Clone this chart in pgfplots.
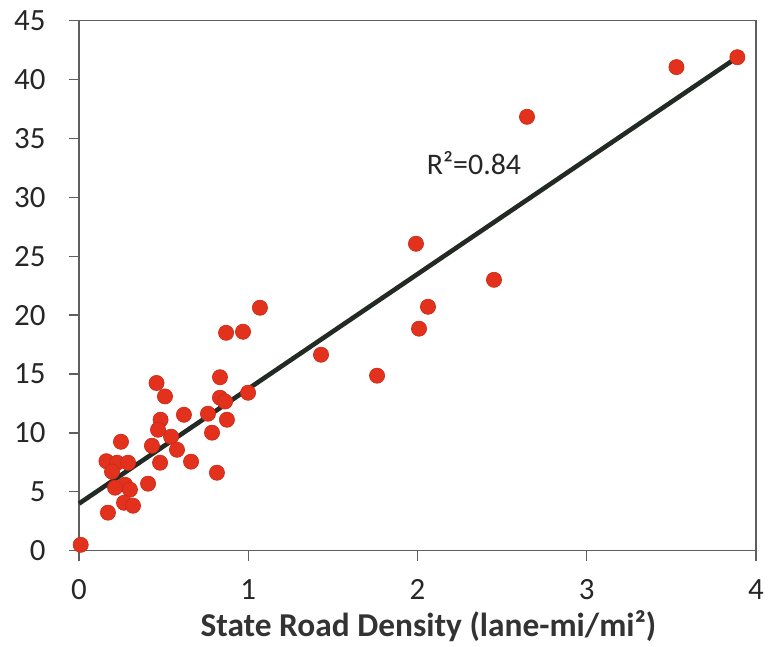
\documentclass[border=0pt]{standalone}
\usepackage{fontspec}
\setmainfont{Carlito}
\usepackage{pgfplots}
\pgfplotsset{compat=1.18}
\definecolor{dotred}{RGB}{226,50,30}
\definecolor{dotedge}{RGB}{205,40,22}
\definecolor{linecol}{RGB}{35,42,36}
\definecolor{axcol}{RGB}{95,95,95}
\begin{document}
\begin{tikzpicture}
\begin{axis}[
  scale only axis, width=677bp, height=530bp,
  xmin=0, xmax=4, ymin=0, ymax=45,
  xtick={0,1,2,3,4}, ytick={0,5,...,45},
  tick align=outside, xtick pos=bottom, ytick pos=left,
  major tick length=10bp,
  axis line style={axcol, line width=1.3bp},
  every tick/.style={axcol, line width=1.3bp},
  tick label style={font=\fontsize{31}{33}\selectfont, text=black!85},
  /pgf/number format/assume math mode=true,
  xticklabel style={inner sep=0pt, anchor=base, yshift=-39bp},
  yticklabel style={xshift=-20bp},
  xlabel={State Road Density (lane-mi/mi²)},
  xlabel style={font=\fontsize{33.5}{35}\selectfont\bfseries, text=black!80, inner sep=1bp,
    at={(axis description cs:0.516,0)}, anchor=base, yshift=-86bp},
  clip=false,
]
\addplot[only marks, mark=*, mark size=7.6bp, mark options={fill=dotred, draw=dotedge, line width=0.6bp}] coordinates {
(0.01,0.5) (3.89,41.9) (3.53,41.06) (2.647,36.84) (1.991,26.06) (2.452,23.0)
(2.062,20.71) (2.009,18.85) (1.761,14.86) (1.43,16.64) (1.069,20.63) (0.969,18.59)
(0.869,18.5) (0.999,13.41) (0.833,14.73) (0.833,12.99) (0.874,11.12) (0.786,10.02)
(0.762,11.63) (0.815,6.62) (0.620,11.54) (0.458,14.24) (0.508,13.1) (0.482,11.12)
(0.467,10.27) (0.544,9.68) (0.579,8.57) (0.431,8.91) (0.479,7.47) (0.662,7.56)
(0.408,5.69) (0.248,9.25) (0.162,7.6) (0.225,7.47) (0.290,7.47) (0.195,6.71)
(0.272,5.6) (0.213,5.35) (0.301,5.18) (0.266,4.07) (0.319,3.82) (0.171,3.23)
(0.863,12.67)
};
\addplot[linecol, line width=4.6bp] coordinates {(0,4.0) (3.88,41.8)};
\node[font=\fontsize{30}{32}\selectfont, text=black!85] at (axis cs:2.334,32.9) {R²=0.84};
\end{axis}
\pgfresetboundingbox
\useasboundingbox (-79bp,-96bp) rectangle (693bp,550.7bp);
\end{tikzpicture}
\end{document}
